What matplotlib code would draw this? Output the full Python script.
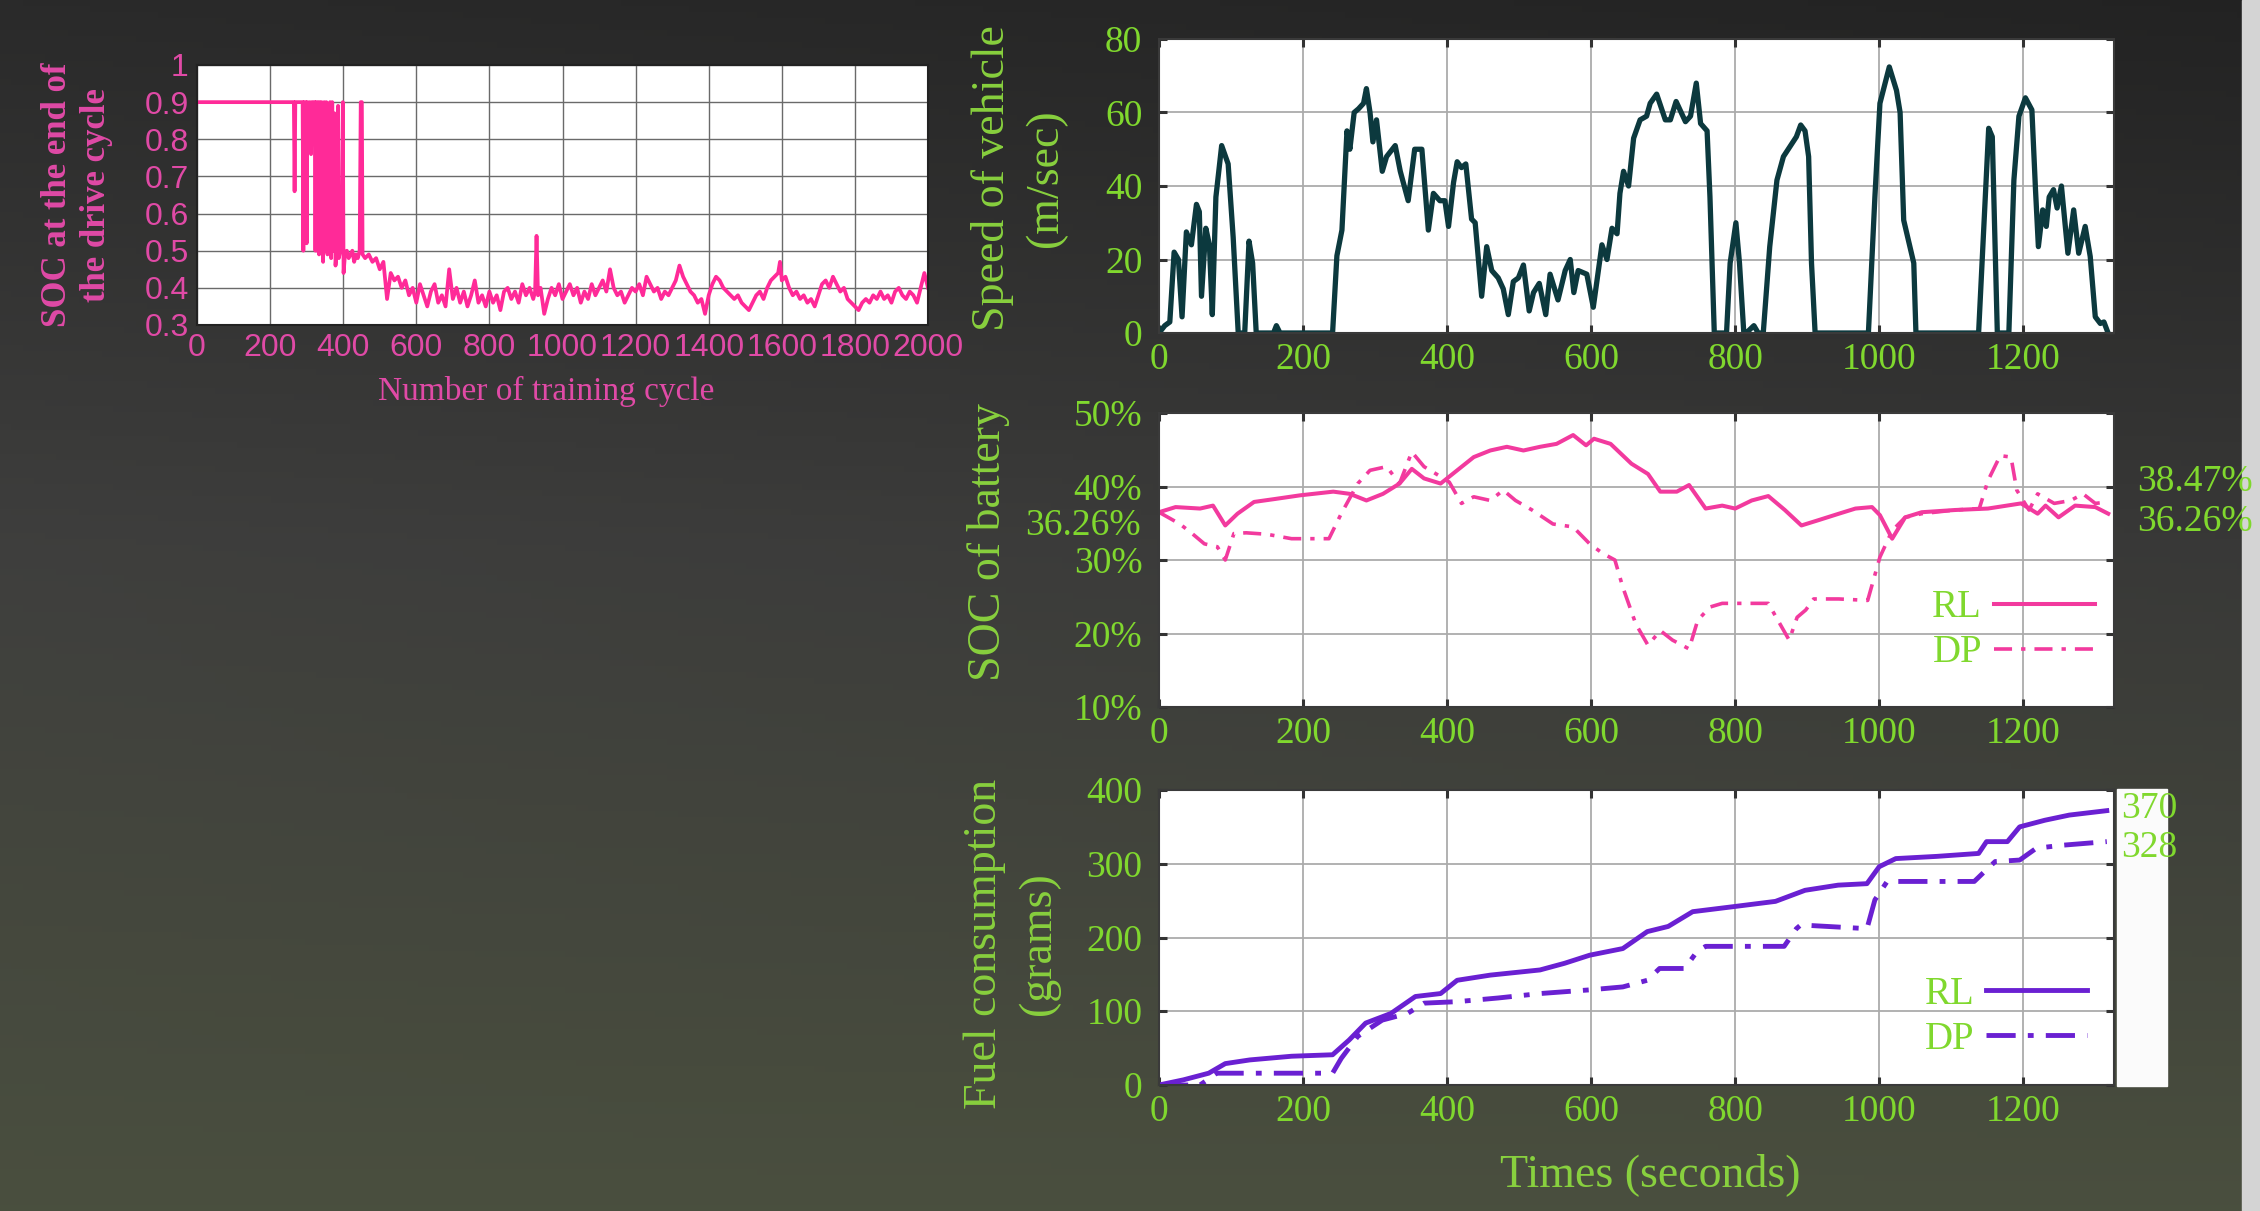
import matplotlib
matplotlib.use("Agg")
import matplotlib.pyplot as plt
import numpy as np
from matplotlib.patches import Rectangle
from matplotlib.font_manager import FontProperties

W, H = 2260, 1211

# ---------------- data ----------------
train_pts = [(0,0.9),(265,0.9),(267,0.66),(269,0.9),(289,0.9),(291,0.5),(293,0.9),(298,0.9),(300,0.52),
    (302,0.9),(306,0.84),(308,0.9),(312,0.76),(314,0.9),(322,0.9),(324,0.5),(326,0.9),(329,0.5),(331,0.9),
    (334,0.49),(336,0.9),(339,0.5),(341,0.9),(345,0.47),(348,0.9),(352,0.5),(354,0.9),(357,0.49),(359,0.88),
    (362,0.5),(364,0.9),(367,0.48),(370,0.9),(373,0.5),(376,0.87),(379,0.46),(382,0.5),(386,0.89),(388,0.48),
    (392,0.5),(396,0.5),(399,0.9),(401,0.44),(405,0.49),(410,0.5),(415,0.48),(420,0.49),(425,0.5),(430,0.47),
    (435,0.49),(440,0.48),(445,0.5),(448,0.9),(451,0.9),(453,0.49),
    (460,0.48),(470,0.49),(480,0.47),(490,0.48),(500,0.45),(510,0.47),(520,0.37),(530,0.44),(540,0.42),
    (550,0.43),(560,0.40),(570,0.42),(580,0.38),(590,0.40),(600,0.36),(610,0.41),(620,0.38),(630,0.35),
    (640,0.39),(650,0.41),(660,0.36),(670,0.38),(680,0.35),(690,0.45),(700,0.37),(710,0.40),(720,0.36),
    (730,0.39),(740,0.35),(750,0.38),(760,0.42),(770,0.36),(780,0.38),(790,0.35),(800,0.39),(810,0.36),
    (820,0.38),(830,0.34),(840,0.39),(850,0.40),(860,0.37),(870,0.39),(880,0.36),(890,0.41),(900,0.38),
    (910,0.40),(920,0.37),(925,0.39),(929,0.54),(933,0.38),(940,0.40),(950,0.33),(960,0.37),(970,0.40),
    (980,0.38),(990,0.41),(1000,0.37),(1010,0.39),(1020,0.41),(1030,0.38),(1040,0.40),(1050,0.36),
    (1060,0.39),(1070,0.37),(1080,0.41),(1090,0.38),(1100,0.40),(1110,0.42),(1120,0.39),(1130,0.45),
    (1140,0.40),(1150,0.38),(1160,0.39),(1170,0.36),(1180,0.38),(1190,0.40),(1200,0.39),(1210,0.41),
    (1220,0.38),(1230,0.43),(1240,0.41),(1250,0.39),(1260,0.40),(1270,0.37),(1280,0.39),(1290,0.38),
    (1300,0.40),(1310,0.42),(1320,0.46),(1330,0.43),(1340,0.41),(1350,0.39),(1360,0.38),(1370,0.36),
    (1380,0.37),(1390,0.33),(1400,0.38),(1410,0.41),(1420,0.43),(1430,0.42),(1440,0.40),(1450,0.39),
    (1460,0.38),(1470,0.37),(1480,0.38),(1490,0.36),(1500,0.35),(1510,0.34),(1520,0.36),(1530,0.38),
    (1540,0.39),(1550,0.37),(1560,0.40),(1570,0.42),(1580,0.43),(1590,0.44),(1595,0.47),(1600,0.42),
    (1610,0.43),(1620,0.40),(1630,0.38),(1640,0.39),(1650,0.37),(1660,0.38),(1670,0.36),(1680,0.37),
    (1690,0.35),(1700,0.38),(1710,0.41),(1720,0.42),(1730,0.40),(1740,0.43),(1750,0.41),(1760,0.39),
    (1770,0.40),(1780,0.37),(1790,0.36),(1800,0.35),(1810,0.34),(1820,0.36),(1830,0.37),(1840,0.36),
    (1850,0.38),(1860,0.37),(1870,0.39),(1880,0.37),(1890,0.38),(1900,0.36),(1910,0.39),(1920,0.40),
    (1930,0.38),(1940,0.37),(1950,0.39),(1960,0.38),(1970,0.36),(1980,0.40),(1990,0.44),(2000,0.40)]

speed_pts = [(0,0),(8,2),(15,3),(21,22),(27,20),(32,4.4),(38,27.5),(45,24),(52,35),(56,33),(59,10),(65,28.5),
    (70,24),(74,5),(79,37),(87,51),(96,46),(103,26),(110,0),(119,0),(125,25),(130,19),(135,0),(159,0),(163,2),
    (168,0),(241,0),(247,21),(254,28),(261,55),(265,50),(271,60),(277,61),(284,62.5),(288,66.5),(293,60),
    (297,52),(302,58),(310,44),(316,48),(328,51),(335,44),(346,36),(355,50),(365,50),(374,28),(381,38),
    (390,36),(397,36),(402,29),(409,41),(414,46.6),(420,45),(426,46),(434,31),(439,30),(448,10),(455,23.5),
    (462,17),(471,15),(478,12),(485,5),(492,14),(499,15),(506,18.5),(514,6),(520,11),(528,13.5),(537,5),
    (543,16),(554,9),(564,17),(571,20),(576,11),(582,17),(594,16),(603,7),(615,24),(622,20),(629,28.5),
    (636,27),(640,38),(645,44),(652,40),(659,53),(668,58),(677,59),(682,62.5),(691,65),(703,58),(710,58),
    (718,63),(731,57.5),(738,59),(746,68),(752,57),(761,55),(765,37),(771,0),(788,0),(793,19),(801,30),
    (806,19),(812,0),(818,0.5),(826,2),(832,0),(839,0),(848,23.5),(858,41.6),(867,48),(876,50.7),(885,53.4),
    (891,56.6),(897,55),(902,48),(906,19),(911,0),(985,0),(994,37),(1001,62.5),(1014,72.4),(1024,66),
    (1029,60),(1034,30.7),(1042,24),(1048,19),(1051,0),(1138,0),(1145,28),(1152,55.7),(1157,53.4),(1164,0),
    (1180,0),(1187,41.6),(1194,59),(1203,64),(1212,60.7),(1217,39),(1221,23.5),(1227,33.5),(1232,29),
    (1236,37),(1242,39),(1247,34),(1253,40),(1262,21.7),(1270,33.5),(1277,21.7),(1286,29),(1293,20.8),
    (1300,4.4),(1307,2.6),(1312,3),(1317,0.4)]

soc_rl_pts = [(0,36.5),(23,37.2),(57,37.0),(75,37.4),(92,34.7),(109,36.3),(132,37.9),(161,38.3),(196,38.8),
    (242,39.3),(265,39.0),(288,38.1),(311,39.0),(334,40.4),(351,42.4),(368,41.1),(391,40.4),(414,42.2),
    (437,44.0),(460,44.9),(483,45.4),(506,44.9),(529,45.4),(552,45.8),(575,47.0),(593,45.6),(604,46.5),
    (627,45.8),(656,43.1),(679,41.7),(696,39.3),(719,39.3),(736,40.2),(759,37.0),(782,37.4),(800,37.0),
    (823,38.1),(846,38.7),(869,36.8),(892,34.7),(915,35.4),(944,36.3),(967,37.0),(990,37.2),(1001,36.1),
    (1018,32.9),(1036,35.8),(1059,36.5),(1105,36.8),(1151,37.0),(1197,37.7),(1220,36.3),(1231,37.4),
    (1249,35.8),(1272,37.4),(1300,37.2),(1318,36.3)]

soc_dp_pts = [(0,36.5),(29,34.9),(46,33.6),(63,32.2),(81,31.8),(92,30.0),(104,33.6),(121,33.7),(150,33.5),
    (184,32.9),(236,32.9),(253,36.3),(276,40.4),(293,42.2),(316,42.7),(334,40.4),(351,44.7),(368,42.7),
    (385,41.7),(403,40.6),(420,37.7),(437,38.6),(460,38.1),(478,39.5),(495,38.1),(518,36.8),(547,34.9),
    (575,34.5),(598,32.2),(616,30.9),(633,30.0),(644,26.3),(662,21.3),(679,18.4),(696,20.4),(713,19.1),
    (736,17.9),(748,21.8),(765,23.6),(782,24.1),(805,24.1),(828,24.1),(846,24.1),(857,22.2),(875,19.1),
    (886,22.2),(898,23.2),(909,24.7),(944,24.7),(984,24.5),(1001,30.4),(1018,34.0),(1036,35.8),
    (1059,36.3),(1105,36.8),(1139,37.0),(1151,40.8),(1168,44.2),(1183,44.0),(1191,39.5),(1208,36.8),
    (1220,39.0),(1243,37.7),(1266,38.1),(1283,39.0),(1300,37.7),(1318,37.9)]

fuel_rl_pts = [(0,0),(34,7),(69,16),(92,29),(126,34),(184,39),(241,41),(264,61),(287,84),(322,97),
    (356,120),(391,124),(414,142),(460,149),(529,156),(563,165),(598,176),(644,185),(678,208),(707,215),
    (741,235),(799,242),(856,249),(897,264),(943,271),(983,273),(1000,296),(1023,307),(1080,310),
    (1138,314),(1149,330),(1178,330),(1195,350),(1230,359),(1264,366),(1316,372)]

fuel_dp_pts = [(0,0),(57,0),(80,16),(184,16),(241,16),(253,36),(276,66),(310,88),(345,97),(368,111),
    (414,113),(471,118),(529,124),(598,129),(644,133),(678,142),(695,158),(730,158),(747,181),(759,188),
    (868,188),(885,212),(891,217),(983,212),(994,251),(1011,276),(1132,276),(1149,292),(1161,303),
    (1195,305),(1218,321),(1253,325),(1316,330)]

time_ticks = [0, 200, 400, 600, 800, 1000, 1200]
train_ticks = list(range(0, 2001, 200))
train_yticks = [0.3, 0.4, 0.5, 0.6, 0.7, 0.8, 0.9, 1.0]
train_ytick_labels = ['0.3', '0.4', '0.5', '0.6', '0.7', '0.8', '0.9', '1']
speed_ticks = [0, 20, 40, 60, 80]
soc_ticks = [10, 20, 30, 40, 50]
fuel_ticks = [0, 100, 200, 300, 400]
soc_start_label = "36.26%"
soc_end_labels = ["38.47%", "36.26%"]
fuel_end_labels = ["370", "328"]

# ---------------- style ----------------
GREEN = '#80d82e'
GREEN_LAB = '#88d03e'
PINK_TXT = '#e04aa6'
PINK_LINE = '#ff2a98'
SOC_PINK = '#f23a9e'
TEAL = '#0c393e'
PURPLE = '#6a20d2'
SERIF = ['Liberation Serif', 'DejaVu Serif']
TICK_FS = 27

fig = plt.figure(figsize=(W/100, H/100), dpi=100)

# background gradient
bg = fig.add_axes([0, 0, 1, 1], zorder=-10)
bg.set_axis_off()
top = np.array([0.165, 0.165, 0.165])
mid = np.array([0.245, 0.245, 0.24])
bot = np.array([0.29, 0.31, 0.245])
ny, nx = 200, 200
yy = np.linspace(0, 1, ny)[:, None]
xx = np.linspace(0, 1, nx)[None, :]
img = np.zeros((ny, nx, 3))
for c in range(3):
    col = np.where(yy < 0.45, top[c] + (mid[c]-top[c])*(yy/0.45), mid[c] + (bot[c]-mid[c])*((yy-0.45)/0.55))
    img[:, :, c] = col * (1 - 0.18*xx*(1-yy))
bg.imshow(img, extent=[0, 1, 0, 1], aspect='auto', origin='upper')
bg.set_xlim(0, 1); bg.set_ylim(0, 1)
bg.add_patch(Rectangle((2242/W, 0), 18/W, 1, color='#d4d4d4', transform=bg.transAxes))
bg.add_patch(Rectangle((2117/W, 1-1086/H), 50/W, 297/H, color='#fbfbfb', transform=bg.transAxes))

def rect(l, t, r, b):
    return [l/W, 1-b/H, (r-l)/W, (b-t)/H]

def ftext(x, y, s, **kw):
    fig.text(x/W, 1-y/H, s, **kw)

# ---------------- plot 1: training ----------------
ax1 = fig.add_axes(rect(197, 65, 928, 325))
tx, ty = zip(*train_pts)
ax1.plot(tx, ty, color=PINK_LINE, lw=2.7)
ax1.set_xlim(0, 2000); ax1.set_ylim(0.3, 1.0)
ax1.set_xticks(train_ticks)
ax1.set_xticklabels([str(v) for v in train_ticks])
ax1.set_yticks(train_yticks)
ax1.set_yticklabels(train_ytick_labels)
ax1.grid(True, color='#6a6a6a', lw=1.0)
ax1.tick_params(length=0, labelsize=23, labelcolor=PINK_TXT, pad=6)
for lab in ax1.get_xticklabels() + ax1.get_yticklabels():
    lab.set_family(['Liberation Sans', 'DejaVu Sans'])
for s in ax1.spines.values():
    s.set_color('#222222'); s.set_linewidth(1.5)
ftext(77, 195, "SOC at the end of\nthe drive cycle", rotation=90, ha='center', va='center',
      color=PINK_TXT, fontsize=25, fontweight='bold', family=SERIF, linespacing=1.25)
ftext(546, 391, "Number of training cycle", ha='center', va='center', color=PINK_TXT,
      fontsize=24, family=SERIF)

# ---------------- right-hand axes ----------------
def style_right(ax, yt, ylim):
    ax.set_xlim(0, 1326)
    ax.set_ylim(*ylim)
    ax.set_xticks(time_ticks)
    ax.set_yticks(yt)
    ax.grid(True, color='#ababab', lw=1.3)
    ax.tick_params(direction='in', length=6, width=2.2, color='#333333', top=True, right=True,
                   labelsize=TICK_FS, labelcolor=GREEN)
    ax.tick_params(axis='y', pad=12)
    ax.tick_params(axis='x', pad=7)
    for lab in ax.get_xticklabels() + ax.get_yticklabels():
        lab.set_family(SERIF)
    for s in ax.spines.values():
        s.set_color('#3a3a3a'); s.set_linewidth(1.5)

def legend_right(ax, handles, x, y):
    ax.legend(handles, ['RL', 'DP'], loc='upper right', bbox_to_anchor=(x, y), frameon=False,
              markerfirst=False, prop=FontProperties(family=SERIF, size=28), labelcolor=GREEN,
              handlelength=2.6, handletextpad=0.3, labelspacing=0.2, borderpad=0, borderaxespad=0)

ax_s = fig.add_axes(rect(1159, 39, 2114, 333))
st, sv = zip(*speed_pts)
ax_s.plot(st, sv, color=TEAL, lw=3.8, solid_joinstyle='round')
style_right(ax_s, speed_ticks, (0, 80))
ftext(1019, 178, "Speed of vehicle\n(m/sec)", rotation=90, ha='center', va='center',
      color=GREEN_LAB, fontsize=33, family=SERIF, linespacing=1.35)

ax_c = fig.add_axes(rect(1159, 413, 2114, 707))
rt, rv = zip(*soc_rl_pts)
dt, dv = zip(*soc_dp_pts)
l1, = ax_c.plot(rt, rv, color=SOC_PINK, lw=2.9)
l2, = ax_c.plot(dt, dv, color=SOC_PINK, lw=2.6, linestyle=(0, (5, 2.5, 1.2, 2.5)))
style_right(ax_c, soc_ticks, (10, 50))
ax_c.set_yticklabels([f"{v}%" for v in soc_ticks])
for lab in ax_c.get_yticklabels():
    lab.set_family(SERIF)
legend_right(ax_c, [l1, l2], 0.98, 0.40)
ftext(1141, 522, soc_start_label, ha='right', va='center_baseline', color=GREEN, fontsize=TICK_FS, family=SERIF)
ftext(2137, 482, soc_end_labels[0], ha='left', va='center', color=GREEN, fontsize=TICK_FS, family=SERIF)
ftext(2137, 522, soc_end_labels[1], ha='left', va='center', color=GREEN, fontsize=TICK_FS, family=SERIF)
ftext(988, 542, "SOC of battery", rotation=90, ha='center', va='center',
      color=GREEN_LAB, fontsize=33, family=SERIF)

ax_f = fig.add_axes(rect(1159, 790, 2114, 1085))
ft, fv = zip(*fuel_rl_pts)
gt, gv = zip(*fuel_dp_pts)
m1, = ax_f.plot(ft, fv, color=PURPLE, lw=3.5)
m2, = ax_f.plot(gt, gv, color=PURPLE, lw=3.5, linestyle=(0, (6, 2.5, 1.2, 2.5)))
style_right(ax_f, fuel_ticks, (0, 400))
legend_right(ax_f, [m1, m2], 0.972, 0.37)
ftext(2121, 809, fuel_end_labels[0], ha='left', va='center', color=GREEN, fontsize=TICK_FS, family=SERIF)
ftext(2121, 848, fuel_end_labels[1], ha='left', va='center', color=GREEN, fontsize=TICK_FS, family=SERIF)
ftext(1012, 944, "Fuel consumption\n(grams)", rotation=90, ha='center', va='center',
      color=GREEN_LAB, fontsize=33, family=SERIF, linespacing=1.35)
ftext(1650, 1175, "Times (seconds)", ha='center', va='center', color=GREEN_LAB,
      fontsize=33, family=SERIF)

fig.savefig('out.png', dpi=100)
